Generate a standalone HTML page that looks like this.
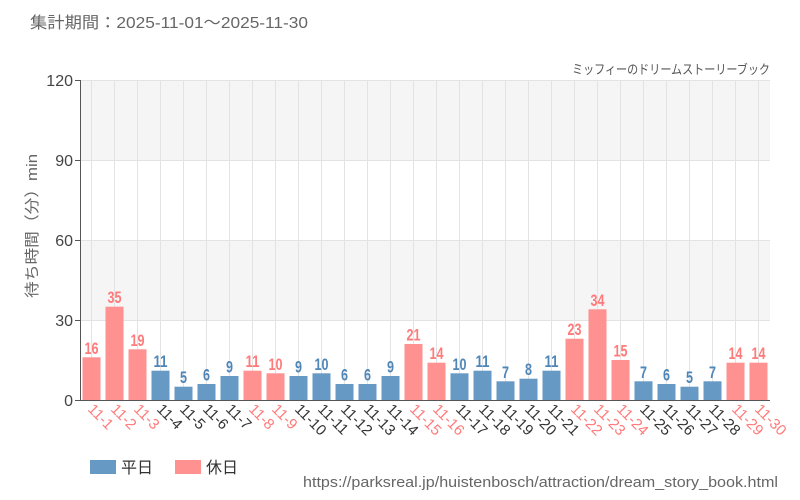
<!DOCTYPE html>
<html><head><meta charset="utf-8"><style>
body{margin:0;background:#fff;}
svg{display:block;font-family:"Liberation Sans","Noto Sans CJK JP",sans-serif;}
.v{font-family:"Liberation Sans",sans-serif;font-size:17px;text-anchor:middle;font-weight:bold;}
.b text.v{fill:#4f86b8}.p text.v{fill:#ff7a7a}
.xl{font-size:15px;}
</style></head><body>
<svg width="800" height="500" viewBox="0 0 800 500">
<text x="30" y="28" font-size="16" fill="#666" textLength="278" lengthAdjust="spacingAndGlyphs">集計期間：2025-11-01～2025-11-30</text>
<text x="572" y="74" font-size="13" fill="#555" textLength="198" lengthAdjust="spacingAndGlyphs">ミッフィーのドリームストーリーブック</text>
<rect x="80" y="80" width="690" height="80" fill="#f5f5f5"/>
<rect x="80" y="240" width="690" height="80" fill="#f5f5f5"/>
<g stroke="#e3e3e3" stroke-width="1">
<line x1="80" y1="80.5" x2="770" y2="80.5"/><line x1="80" y1="160.5" x2="770" y2="160.5"/><line x1="80" y1="240.5" x2="770" y2="240.5"/><line x1="80" y1="320.5" x2="770" y2="320.5"/>
<line x1="91.5" y1="80" x2="91.5" y2="400"/><line x1="114.5" y1="80" x2="114.5" y2="400"/><line x1="137.5" y1="80" x2="137.5" y2="400"/><line x1="160.5" y1="80" x2="160.5" y2="400"/><line x1="183.5" y1="80" x2="183.5" y2="400"/><line x1="206.5" y1="80" x2="206.5" y2="400"/><line x1="229.5" y1="80" x2="229.5" y2="400"/><line x1="252.5" y1="80" x2="252.5" y2="400"/><line x1="275.5" y1="80" x2="275.5" y2="400"/><line x1="298.5" y1="80" x2="298.5" y2="400"/><line x1="321.5" y1="80" x2="321.5" y2="400"/><line x1="344.5" y1="80" x2="344.5" y2="400"/><line x1="367.5" y1="80" x2="367.5" y2="400"/><line x1="390.5" y1="80" x2="390.5" y2="400"/><line x1="413.5" y1="80" x2="413.5" y2="400"/><line x1="436.5" y1="80" x2="436.5" y2="400"/><line x1="459.5" y1="80" x2="459.5" y2="400"/><line x1="482.5" y1="80" x2="482.5" y2="400"/><line x1="505.5" y1="80" x2="505.5" y2="400"/><line x1="528.5" y1="80" x2="528.5" y2="400"/><line x1="551.5" y1="80" x2="551.5" y2="400"/><line x1="574.5" y1="80" x2="574.5" y2="400"/><line x1="597.5" y1="80" x2="597.5" y2="400"/><line x1="620.5" y1="80" x2="620.5" y2="400"/><line x1="643.5" y1="80" x2="643.5" y2="400"/><line x1="666.5" y1="80" x2="666.5" y2="400"/><line x1="689.5" y1="80" x2="689.5" y2="400"/><line x1="712.5" y1="80" x2="712.5" y2="400"/><line x1="735.5" y1="80" x2="735.5" y2="400"/><line x1="758.5" y1="80" x2="758.5" y2="400"/>
</g>
<g class="p" fill="#ff9191">
<rect x="82.5" y="357.3" width="18" height="42.7"/><text class="v" x="91.5" y="354" textLength="14" lengthAdjust="spacingAndGlyphs">16</text>
<rect x="105.5" y="306.7" width="18" height="93.3"/><text class="v" x="114.5" y="303" textLength="14" lengthAdjust="spacingAndGlyphs">35</text>
<rect x="128.5" y="349.3" width="18" height="50.7"/><text class="v" x="137.5" y="346" textLength="14" lengthAdjust="spacingAndGlyphs">19</text>
<rect x="243.5" y="370.7" width="18" height="29.3"/><text class="v" x="252.5" y="367" textLength="14" lengthAdjust="spacingAndGlyphs">11</text>
<rect x="266.5" y="373.3" width="18" height="26.7"/><text class="v" x="275.5" y="370" textLength="14" lengthAdjust="spacingAndGlyphs">10</text>
<rect x="404.5" y="344" width="18" height="56"/><text class="v" x="413.5" y="340.5" textLength="14" lengthAdjust="spacingAndGlyphs">21</text>
<rect x="427.5" y="362.7" width="18" height="37.3"/><text class="v" x="436.5" y="359" textLength="14" lengthAdjust="spacingAndGlyphs">14</text>
<rect x="565.5" y="338.7" width="18" height="61.3"/><text class="v" x="574.5" y="335" textLength="14" lengthAdjust="spacingAndGlyphs">23</text>
<rect x="588.5" y="309.3" width="18" height="90.7"/><text class="v" x="597.5" y="306" textLength="14" lengthAdjust="spacingAndGlyphs">34</text>
<rect x="611.5" y="360" width="18" height="40"/><text class="v" x="620.5" y="356.5" textLength="14" lengthAdjust="spacingAndGlyphs">15</text>
<rect x="726.5" y="362.7" width="18" height="37.3"/><text class="v" x="735.5" y="359" textLength="14" lengthAdjust="spacingAndGlyphs">14</text>
<rect x="749.5" y="362.7" width="18" height="37.3"/><text class="v" x="758.5" y="359" textLength="14" lengthAdjust="spacingAndGlyphs">14</text>
</g>
<g class="b" fill="#6699c3">
<rect x="151.5" y="370.7" width="18" height="29.3"/><text class="v" x="160.5" y="367" textLength="14" lengthAdjust="spacingAndGlyphs">11</text>
<rect x="174.5" y="386.7" width="18" height="13.3"/><text class="v" x="183.5" y="383" textLength="7" lengthAdjust="spacingAndGlyphs">5</text>
<rect x="197.5" y="384" width="18" height="16"/><text class="v" x="206.5" y="380.5" textLength="7" lengthAdjust="spacingAndGlyphs">6</text>
<rect x="220.5" y="376" width="18" height="24"/><text class="v" x="229.5" y="372.5" textLength="7" lengthAdjust="spacingAndGlyphs">9</text>
<rect x="289.5" y="376" width="18" height="24"/><text class="v" x="298.5" y="372.5" textLength="7" lengthAdjust="spacingAndGlyphs">9</text>
<rect x="312.5" y="373.3" width="18" height="26.7"/><text class="v" x="321.5" y="370" textLength="14" lengthAdjust="spacingAndGlyphs">10</text>
<rect x="335.5" y="384" width="18" height="16"/><text class="v" x="344.5" y="380.5" textLength="7" lengthAdjust="spacingAndGlyphs">6</text>
<rect x="358.5" y="384" width="18" height="16"/><text class="v" x="367.5" y="380.5" textLength="7" lengthAdjust="spacingAndGlyphs">6</text>
<rect x="381.5" y="376" width="18" height="24"/><text class="v" x="390.5" y="372.5" textLength="7" lengthAdjust="spacingAndGlyphs">9</text>
<rect x="450.5" y="373.3" width="18" height="26.7"/><text class="v" x="459.5" y="370" textLength="14" lengthAdjust="spacingAndGlyphs">10</text>
<rect x="473.5" y="370.7" width="18" height="29.3"/><text class="v" x="482.5" y="367" textLength="14" lengthAdjust="spacingAndGlyphs">11</text>
<rect x="496.5" y="381.3" width="18" height="18.7"/><text class="v" x="505.5" y="378" textLength="7" lengthAdjust="spacingAndGlyphs">7</text>
<rect x="519.5" y="378.7" width="18" height="21.3"/><text class="v" x="528.5" y="375" textLength="7" lengthAdjust="spacingAndGlyphs">8</text>
<rect x="542.5" y="370.7" width="18" height="29.3"/><text class="v" x="551.5" y="367" textLength="14" lengthAdjust="spacingAndGlyphs">11</text>
<rect x="634.5" y="381.3" width="18" height="18.7"/><text class="v" x="643.5" y="378" textLength="7" lengthAdjust="spacingAndGlyphs">7</text>
<rect x="657.5" y="384" width="18" height="16"/><text class="v" x="666.5" y="380.5" textLength="7" lengthAdjust="spacingAndGlyphs">6</text>
<rect x="680.5" y="386.7" width="18" height="13.3"/><text class="v" x="689.5" y="383" textLength="7" lengthAdjust="spacingAndGlyphs">5</text>
<rect x="703.5" y="381.3" width="18" height="18.7"/><text class="v" x="712.5" y="378" textLength="7" lengthAdjust="spacingAndGlyphs">7</text>
</g>
<g stroke="#555" stroke-width="1">
<line x1="80.5" y1="80" x2="80.5" y2="400"/><line x1="80" y1="400.5" x2="770" y2="400.5"/>
<line x1="75" y1="80.5" x2="80" y2="80.5"/><line x1="75" y1="160.5" x2="80" y2="160.5"/><line x1="75" y1="240.5" x2="80" y2="240.5"/><line x1="75" y1="320.5" x2="80" y2="320.5"/><line x1="75" y1="400.5" x2="80" y2="400.5"/>
</g>
<g font-size="16" fill="#444" text-anchor="end">
<text x="73" y="86">120</text><text x="73" y="166">90</text><text x="73" y="246">60</text><text x="73" y="326">30</text><text x="73" y="406">0</text>
</g>
<text transform="translate(37,226) rotate(-90)" font-size="15" fill="#666" text-anchor="middle" textLength="144" lengthAdjust="spacingAndGlyphs">待ち時間（分）min</text>
<g class="xl">
<text fill="#ff7a7a" transform="translate(87,410) rotate(45)">11-1</text>
<text fill="#ff7a7a" transform="translate(110,410) rotate(45)">11-2</text>
<text fill="#ff7a7a" transform="translate(133,410) rotate(45)">11-3</text>
<text fill="#333" transform="translate(156,410) rotate(45)">11-4</text>
<text fill="#333" transform="translate(179,410) rotate(45)">11-5</text>
<text fill="#333" transform="translate(202,410) rotate(45)">11-6</text>
<text fill="#333" transform="translate(225,410) rotate(45)">11-7</text>
<text fill="#ff7a7a" transform="translate(248,410) rotate(45)">11-8</text>
<text fill="#ff7a7a" transform="translate(271,410) rotate(45)">11-9</text>
<text fill="#333" transform="translate(294,410) rotate(45)">11-10</text>
<text fill="#333" transform="translate(317,410) rotate(45)">11-11</text>
<text fill="#333" transform="translate(340,410) rotate(45)">11-12</text>
<text fill="#333" transform="translate(363,410) rotate(45)">11-13</text>
<text fill="#333" transform="translate(386,410) rotate(45)">11-14</text>
<text fill="#ff7a7a" transform="translate(409,410) rotate(45)">11-15</text>
<text fill="#ff7a7a" transform="translate(432,410) rotate(45)">11-16</text>
<text fill="#333" transform="translate(455,410) rotate(45)">11-17</text>
<text fill="#333" transform="translate(478,410) rotate(45)">11-18</text>
<text fill="#333" transform="translate(501,410) rotate(45)">11-19</text>
<text fill="#333" transform="translate(524,410) rotate(45)">11-20</text>
<text fill="#333" transform="translate(547,410) rotate(45)">11-21</text>
<text fill="#ff7a7a" transform="translate(570,410) rotate(45)">11-22</text>
<text fill="#ff7a7a" transform="translate(593,410) rotate(45)">11-23</text>
<text fill="#ff7a7a" transform="translate(616,410) rotate(45)">11-24</text>
<text fill="#333" transform="translate(639,410) rotate(45)">11-25</text>
<text fill="#333" transform="translate(662,410) rotate(45)">11-26</text>
<text fill="#333" transform="translate(685,410) rotate(45)">11-27</text>
<text fill="#333" transform="translate(708,410) rotate(45)">11-28</text>
<text fill="#ff7a7a" transform="translate(731,410) rotate(45)">11-29</text>
<text fill="#ff7a7a" transform="translate(754,410) rotate(45)">11-30</text>
</g>
<rect x="90" y="460" width="26" height="14" fill="#6699c3"/>
<text x="121" y="473" font-size="16" fill="#333">平日</text>
<rect x="175" y="460" width="26" height="14" fill="#ff9191"/>
<text x="206" y="473" font-size="16" fill="#333">休日</text>
<text x="303" y="487" font-size="15" fill="#666" textLength="475" lengthAdjust="spacingAndGlyphs">https://parksreal.jp/huistenbosch/attraction/dream_story_book.html</text>
</svg>
</body></html>
